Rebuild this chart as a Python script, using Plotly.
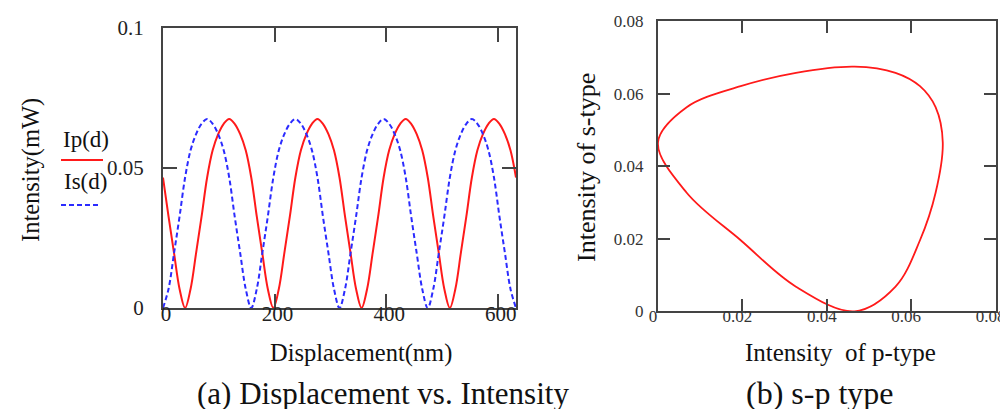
import plotly.graph_objects as go
from plotly.subplots import make_subplots

W, H = 1008, 409

# displacement samples (nm)
displacement_nm = [0, 9.9, 19.8, 29.7, 39.6, 49.4, 59.3, 69.2, 79.1, 89.0, 98.9, 108.8,
                   118.7, 128.5, 138.4, 148.3, 158.2, 168.1, 178.0, 187.9, 197.8, 207.6,
                   217.5, 227.4, 237.3, 247.2, 257.1, 267.0, 276.9, 286.7, 296.6, 306.5,
                   316.4, 326.3, 336.2, 346.1, 356.0, 365.9, 375.8, 385.7, 395.5, 405.4,
                   415.3, 425.2, 435.1, 444.9, 454.8, 464.7, 474.6, 484.5, 494.4, 504.3,
                   514.2, 524.1, 533.9, 543.8, 553.7, 563.6, 573.5, 583.4, 593.3, 603.1,
                   613.0, 622.9, 632.8]

# p-type intensity Ip(d), mW
ip_mw = [0.0466, 0.0327, 0.0196, 0.0068, 0.0, 0.0068, 0.0196, 0.0327,
         0.0466, 0.0563, 0.0621, 0.0658, 0.0675, 0.0658, 0.0621, 0.0563,
         0.0466, 0.0327, 0.0196, 0.0068, 0.0, 0.0068, 0.0196, 0.0327,
         0.0466, 0.0563, 0.0621, 0.0658, 0.0675, 0.0658, 0.0621, 0.0563,
         0.0466, 0.0327, 0.0196, 0.0068, 0.0, 0.0068, 0.0196, 0.0327,
         0.0466, 0.0563, 0.0621, 0.0658, 0.0675, 0.0658, 0.0621, 0.0563,
         0.0466, 0.0327, 0.0196, 0.0068, 0.0, 0.0068, 0.0196, 0.0327,
         0.0466, 0.0563, 0.0621, 0.0658, 0.0675, 0.0658, 0.0621, 0.0563,
         0.0466]

# s-type intensity Is(d), mW
is_mw = [0.0, 0.0068, 0.0196, 0.0327, 0.0466, 0.0563, 0.0621, 0.0658,
         0.0675, 0.0658, 0.0621, 0.0563, 0.0466, 0.0327, 0.0196, 0.0068,
         0.0, 0.0068, 0.0196, 0.0327, 0.0466, 0.0563, 0.0621, 0.0658,
         0.0675, 0.0658, 0.0621, 0.0563, 0.0466, 0.0327, 0.0196, 0.0068,
         0.0, 0.0068, 0.0196, 0.0327, 0.0466, 0.0563, 0.0621, 0.0658,
         0.0675, 0.0658, 0.0621, 0.0563, 0.0466, 0.0327, 0.0196, 0.0068,
         0.0, 0.0068, 0.0196, 0.0327, 0.0466, 0.0563, 0.0621, 0.0658,
         0.0675, 0.0658, 0.0621, 0.0563, 0.0466, 0.0327, 0.0196, 0.0068,
         0.0]

a_xticks = [0, 200, 400, 600]
a_yticks = [0, 0.05, 0.1]
a_yticktext = ["0", "0.05", "0.1"]
b_ticks = [0, 0.02, 0.04, 0.06, 0.08]
b_ticktext = ["0", "0.02", "0.04", "0.06", "0.08"]

RED = "#ff1a1a"
BLUE = "#2b2bff"
FRAME = "#444444"
FONT = "Liberation Serif"


def px_x(p):
    return p / W


def px_y(p):
    return 1 - p / H


fig = make_subplots(rows=1, cols=2)

fig.add_trace(go.Scatter(x=displacement_nm, y=ip_mw, mode="lines",
                         line=dict(color=RED, width=2, shape="spline"),
                         name="Ip(d)"), row=1, col=1)
fig.add_trace(go.Scatter(x=displacement_nm, y=is_mw, mode="lines",
                         line=dict(color=BLUE, width=2, shape="spline", dash="5px,3px"),
                         name="Is(d)"), row=1, col=1)
# panel (b): one lap of the same data, starting on the straight lower-left edge
fig.add_trace(go.Scatter(x=ip_mw[2:19], y=is_mw[2:19], mode="lines",
                         line=dict(color=RED, width=1.8, shape="spline"),
                         name="s-p"), row=1, col=2)

axis_common = dict(ticks="inside", showline=True, linewidth=2, linecolor=FRAME,
                   tickcolor=FRAME, tickwidth=2, mirror="allticks",
                   showgrid=False, zeroline=False, automargin=False)

fig.update_xaxes(domain=[px_x(155), px_x(508)], range=[0, 632.8],
                 tickvals=a_xticks, ticklen=14, ticklabelstandoff=-14, ticklabelshift=3,
                 tickfont=dict(family=FONT, size=21, color="#222"), row=1, col=1, **axis_common)
fig.update_yaxes(domain=[px_y(300), px_y(20)], range=[0, 0.1],
                 tickvals=a_yticks, ticktext=a_yticktext, ticklen=14,
                 ticklabelstandoff=13,
                 tickfont=dict(family=FONT, size=21, color="#222"), row=1, col=1, **axis_common)
fig.update_xaxes(domain=[px_x(650), px_x(987.5)], range=[0, 0.08],
                 tickvals=b_ticks, ticktext=b_ticktext, ticklen=12,
                 ticklabelstandoff=-12, ticklabelshift=-5,
                 tickfont=dict(family=FONT, size=17, color="#333"), row=1, col=2, **axis_common)
fig.update_yaxes(domain=[px_y(303.3), px_y(13.3)], range=[0, 0.08],
                 tickvals=b_ticks, ticktext=b_ticktext, ticklen=12,
                 ticklabelstandoff=9,
                 tickfont=dict(family=FONT, size=17, color="#333"), row=1, col=2, **axis_common)

labels = [
    dict(text="Displacement(nm)", x=px_x(353), y=px_y(345), size=24.5),
    dict(text="Intensity(mW)", x=px_x(23), y=px_y(162), size=24.5, textangle=-90),
    dict(text="Ip(d)", x=px_x(77.5), y=px_y(131), size=23),
    dict(text="Is(d)", x=px_x(77.5), y=px_y(173), size=23),
    dict(text="Intensity  of p-type", x=px_x(832), y=px_y(344), size=25),
    dict(text="Intensity of s-type", x=px_x(578), y=px_y(160), size=26, textangle=-90),
    dict(text="(a) Displacement vs. Intensity", x=px_x(374.5), y=px_y(385), size=31),
    dict(text="(b) s-p type", x=px_x(812), y=px_y(385), size=32),
]
for lab in labels:
    fig.add_annotation(text=lab["text"], x=lab["x"], y=lab["y"], xref="paper", yref="paper",
                       xanchor="center", yanchor="middle", showarrow=False,
                       textangle=lab.get("textangle", 0), borderpad=0,
                       font=dict(family=FONT, size=lab["size"], color="#111"))

# legend samples
fig.add_shape(type="line", xref="paper", yref="paper",
              x0=px_x(53), x1=px_x(95), y0=px_y(152), y1=px_y(152),
              line=dict(color=RED, width=2))
fig.add_shape(type="line", xref="paper", yref="paper",
              x0=px_x(53), x1=px_x(92), y0=px_y(197), y1=px_y(197),
              line=dict(color=BLUE, width=2, dash="5px,3px"))

fig.update_layout(width=W, height=H, margin=dict(l=0, r=0, t=0, b=0),
                  paper_bgcolor="white", plot_bgcolor="white",
                  showlegend=False, font=dict(family=FONT, color="#222"))

fig.write_html("out.html")
